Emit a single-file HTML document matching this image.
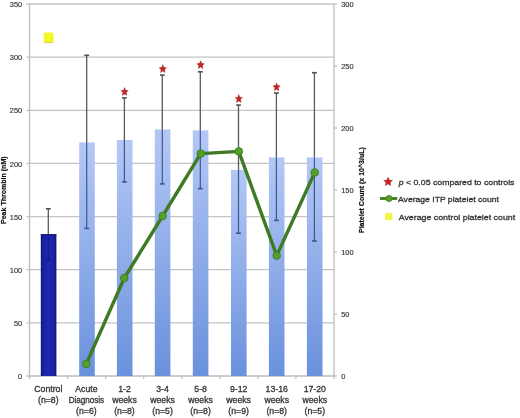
<!DOCTYPE html>
<html><head><meta charset="utf-8"><style>
html,body{margin:0;padding:0;background:#fff;width:520px;height:418px;overflow:hidden;position:relative;font-family:"Liberation Sans",sans-serif;}
</style></head><body>
<svg width="520" height="418" viewBox="0 0 520 418" style="position:absolute;left:0;top:0;will-change:transform;filter:blur(0.35px)" font-family="'Liberation Sans', sans-serif">
<defs>
<linearGradient id="gb" x1="0" y1="0" x2="0" y2="1"><stop offset="0" stop-color="#b4c8f5"/><stop offset="1" stop-color="#6a91dd"/></linearGradient>
<linearGradient id="gc" x1="0" y1="0" x2="1" y2="0"><stop offset="0" stop-color="#10147a"/><stop offset="0.18" stop-color="#1a22a6"/><stop offset="0.5" stop-color="#1e28ae"/><stop offset="0.82" stop-color="#1a22a6"/><stop offset="1" stop-color="#10147a"/></linearGradient>
</defs>
<line x1="26.5" y1="322.86" x2="334.0" y2="322.86" stroke="#c4c4c4" stroke-width="1.3"/>
<line x1="26.5" y1="269.71" x2="334.0" y2="269.71" stroke="#c4c4c4" stroke-width="1.3"/>
<line x1="26.5" y1="216.57" x2="334.0" y2="216.57" stroke="#c4c4c4" stroke-width="1.3"/>
<line x1="26.5" y1="163.43" x2="334.0" y2="163.43" stroke="#c4c4c4" stroke-width="1.3"/>
<line x1="26.5" y1="110.29" x2="334.0" y2="110.29" stroke="#c4c4c4" stroke-width="1.3"/>
<line x1="26.5" y1="57.14" x2="334.0" y2="57.14" stroke="#c4c4c4" stroke-width="1.3"/>
<line x1="26.5" y1="4.00" x2="334.0" y2="4.00" stroke="#c4c4c4" stroke-width="1.3"/>
<line x1="29.5" y1="4.0" x2="29.5" y2="376.0" stroke="#bdbdbd" stroke-width="1.3"/>
<line x1="334.0" y1="4.0" x2="334.0" y2="376.0" stroke="#bdbdbd" stroke-width="1.3"/>
<line x1="26.5" y1="376.0" x2="334.0" y2="376.0" stroke="#bdbdbd" stroke-width="1.3"/>
<line x1="334.0" y1="376.00" x2="337.0" y2="376.00" stroke="#bdbdbd" stroke-width="1.2"/>
<line x1="334.0" y1="314.00" x2="337.0" y2="314.00" stroke="#bdbdbd" stroke-width="1.2"/>
<line x1="334.0" y1="252.00" x2="337.0" y2="252.00" stroke="#bdbdbd" stroke-width="1.2"/>
<line x1="334.0" y1="190.00" x2="337.0" y2="190.00" stroke="#bdbdbd" stroke-width="1.2"/>
<line x1="334.0" y1="128.00" x2="337.0" y2="128.00" stroke="#bdbdbd" stroke-width="1.2"/>
<line x1="334.0" y1="66.00" x2="337.0" y2="66.00" stroke="#bdbdbd" stroke-width="1.2"/>
<line x1="334.0" y1="4.00" x2="337.0" y2="4.00" stroke="#bdbdbd" stroke-width="1.2"/>
<line x1="29.50" y1="376.0" x2="29.50" y2="379.0" stroke="#bdbdbd" stroke-width="1.2"/>
<line x1="67.56" y1="376.0" x2="67.56" y2="379.0" stroke="#bdbdbd" stroke-width="1.2"/>
<line x1="105.62" y1="376.0" x2="105.62" y2="379.0" stroke="#bdbdbd" stroke-width="1.2"/>
<line x1="143.69" y1="376.0" x2="143.69" y2="379.0" stroke="#bdbdbd" stroke-width="1.2"/>
<line x1="181.75" y1="376.0" x2="181.75" y2="379.0" stroke="#bdbdbd" stroke-width="1.2"/>
<line x1="219.81" y1="376.0" x2="219.81" y2="379.0" stroke="#bdbdbd" stroke-width="1.2"/>
<line x1="257.88" y1="376.0" x2="257.88" y2="379.0" stroke="#bdbdbd" stroke-width="1.2"/>
<line x1="295.94" y1="376.0" x2="295.94" y2="379.0" stroke="#bdbdbd" stroke-width="1.2"/>
<line x1="334.00" y1="376.0" x2="334.00" y2="379.0" stroke="#bdbdbd" stroke-width="1.2"/>
<rect x="40.80" y="234.2" width="15.6" height="141.80" fill="url(#gc)"/>
<rect x="40.80" y="234.2" width="15.6" height="1.2" fill="#0c0f66" opacity="0.8"/>
<rect x="79.20" y="142.4" width="15.6" height="233.60" fill="url(#gb)"/>
<rect x="116.90" y="140.0" width="15.6" height="236.00" fill="url(#gb)"/>
<rect x="154.80" y="129.4" width="15.6" height="246.60" fill="url(#gb)"/>
<rect x="192.80" y="130.3" width="15.6" height="245.70" fill="url(#gb)"/>
<rect x="231.00" y="169.8" width="15.6" height="206.20" fill="url(#gb)"/>
<rect x="268.90" y="157.4" width="15.6" height="218.60" fill="url(#gb)"/>
<rect x="306.90" y="157.4" width="15.6" height="218.60" fill="url(#gb)"/>
<line x1="48.30" y1="208.8" x2="48.30" y2="234.2" stroke="#5a5a5a" stroke-width="1.3"/>
<line x1="48.30" y1="234.2" x2="48.30" y2="259.7" stroke="#141a7e" stroke-width="1.2"/>
<line x1="45.90" y1="208.8" x2="50.70" y2="208.8" stroke="#505050" stroke-width="1.6"/>
<line x1="45.90" y1="259.7" x2="50.70" y2="259.7" stroke="#141a7e" stroke-width="1.6"/>
<line x1="86.70" y1="55.3" x2="86.70" y2="142.4" stroke="#5a5a5a" stroke-width="1.3"/>
<line x1="86.70" y1="142.4" x2="86.70" y2="228.4" stroke="#3f5690" stroke-width="1.2"/>
<line x1="84.30" y1="55.3" x2="89.10" y2="55.3" stroke="#505050" stroke-width="1.6"/>
<line x1="84.30" y1="228.4" x2="89.10" y2="228.4" stroke="#3f5690" stroke-width="1.6"/>
<line x1="124.40" y1="97.9" x2="124.40" y2="140.0" stroke="#5a5a5a" stroke-width="1.3"/>
<line x1="124.40" y1="140.0" x2="124.40" y2="181.9" stroke="#3f5690" stroke-width="1.2"/>
<line x1="122.00" y1="97.9" x2="126.80" y2="97.9" stroke="#505050" stroke-width="1.6"/>
<line x1="122.00" y1="181.9" x2="126.80" y2="181.9" stroke="#3f5690" stroke-width="1.6"/>
<line x1="162.30" y1="75.1" x2="162.30" y2="129.4" stroke="#5a5a5a" stroke-width="1.3"/>
<line x1="162.30" y1="129.4" x2="162.30" y2="183.9" stroke="#3f5690" stroke-width="1.2"/>
<line x1="159.90" y1="75.1" x2="164.70" y2="75.1" stroke="#505050" stroke-width="1.6"/>
<line x1="159.90" y1="183.9" x2="164.70" y2="183.9" stroke="#3f5690" stroke-width="1.6"/>
<line x1="200.30" y1="71.8" x2="200.30" y2="130.3" stroke="#5a5a5a" stroke-width="1.3"/>
<line x1="200.30" y1="130.3" x2="200.30" y2="188.6" stroke="#3f5690" stroke-width="1.2"/>
<line x1="197.90" y1="71.8" x2="202.70" y2="71.8" stroke="#505050" stroke-width="1.6"/>
<line x1="197.90" y1="188.6" x2="202.70" y2="188.6" stroke="#3f5690" stroke-width="1.6"/>
<line x1="238.50" y1="105.1" x2="238.50" y2="169.8" stroke="#5a5a5a" stroke-width="1.3"/>
<line x1="238.50" y1="169.8" x2="238.50" y2="233.2" stroke="#3f5690" stroke-width="1.2"/>
<line x1="236.10" y1="105.1" x2="240.90" y2="105.1" stroke="#505050" stroke-width="1.6"/>
<line x1="236.10" y1="233.2" x2="240.90" y2="233.2" stroke="#3f5690" stroke-width="1.6"/>
<line x1="276.40" y1="93.0" x2="276.40" y2="157.4" stroke="#5a5a5a" stroke-width="1.3"/>
<line x1="276.40" y1="157.4" x2="276.40" y2="220.4" stroke="#3f5690" stroke-width="1.2"/>
<line x1="274.00" y1="93.0" x2="278.80" y2="93.0" stroke="#505050" stroke-width="1.6"/>
<line x1="274.00" y1="220.4" x2="278.80" y2="220.4" stroke="#3f5690" stroke-width="1.6"/>
<line x1="314.40" y1="72.7" x2="314.40" y2="157.4" stroke="#5a5a5a" stroke-width="1.3"/>
<line x1="314.40" y1="157.4" x2="314.40" y2="241.0" stroke="#3f5690" stroke-width="1.2"/>
<line x1="312.00" y1="72.7" x2="316.80" y2="72.7" stroke="#505050" stroke-width="1.6"/>
<line x1="312.00" y1="241.0" x2="316.80" y2="241.0" stroke="#3f5690" stroke-width="1.6"/>
<polygon points="124.60,87.60 125.67,90.23 128.20,90.57 126.33,92.54 126.82,95.38 124.60,93.96 122.38,95.38 122.87,92.54 121.00,90.57 123.53,90.23" fill="#c42424" stroke="#a01818" stroke-width="0.4"/>
<polygon points="162.80,64.70 163.87,67.33 166.40,67.67 164.53,69.64 165.02,72.48 162.80,71.06 160.58,72.48 161.07,69.64 159.20,67.67 161.73,67.33" fill="#c42424" stroke="#a01818" stroke-width="0.4"/>
<polygon points="200.60,60.70 201.67,63.33 204.20,63.67 202.33,65.64 202.82,68.48 200.60,67.06 198.38,68.48 198.87,65.64 197.00,63.67 199.53,63.33" fill="#c42424" stroke="#a01818" stroke-width="0.4"/>
<polygon points="238.80,94.60 239.87,97.23 242.40,97.57 240.53,99.54 241.02,102.38 238.80,100.96 236.58,102.38 237.07,99.54 235.20,97.57 237.73,97.23" fill="#c42424" stroke="#a01818" stroke-width="0.4"/>
<polygon points="276.60,82.90 277.67,85.53 280.20,85.87 278.33,87.84 278.82,90.68 276.60,89.26 274.38,90.68 274.87,87.84 273.00,85.87 275.53,85.53" fill="#c42424" stroke="#a01818" stroke-width="0.4"/>
<rect x="43.6" y="32.4" width="10" height="10.6" rx="1.6" fill="#f0f82a"/>
<rect x="44.2" y="42" width="8.8" height="1.1" fill="#c8c860" opacity="0.8"/>
<polyline points="86.2,364.0 124.3,278.0 162.6,216.0 200.7,153.6 238.8,151.4 276.7,255.6 314.7,172.5" fill="none" stroke="#3f7b24" stroke-width="3.4" stroke-linejoin="round"/>
<circle cx="86.2" cy="364.0" r="3.8" fill="#52a02a" stroke="#3f7b24" stroke-width="0.9"/>
<circle cx="124.3" cy="278.0" r="3.8" fill="#52a02a" stroke="#3f7b24" stroke-width="0.9"/>
<circle cx="162.6" cy="216.0" r="3.8" fill="#52a02a" stroke="#3f7b24" stroke-width="0.9"/>
<circle cx="200.7" cy="153.6" r="3.8" fill="#52a02a" stroke="#3f7b24" stroke-width="0.9"/>
<circle cx="238.8" cy="151.4" r="3.8" fill="#52a02a" stroke="#3f7b24" stroke-width="0.9"/>
<circle cx="276.7" cy="255.6" r="3.8" fill="#52a02a" stroke="#3f7b24" stroke-width="0.9"/>
<circle cx="314.7" cy="172.5" r="3.8" fill="#52a02a" stroke="#3f7b24" stroke-width="0.9"/>
<text x="22.2" y="379.10" font-size="7.4" fill="#333" stroke="#333" stroke-width="0.15" text-anchor="end">0</text>
<text x="22.2" y="325.96" font-size="7.4" fill="#333" stroke="#333" stroke-width="0.15" text-anchor="end">50</text>
<text x="22.2" y="272.81" font-size="7.4" fill="#333" stroke="#333" stroke-width="0.15" text-anchor="end">100</text>
<text x="22.2" y="219.67" font-size="7.4" fill="#333" stroke="#333" stroke-width="0.15" text-anchor="end">150</text>
<text x="22.2" y="166.53" font-size="7.4" fill="#333" stroke="#333" stroke-width="0.15" text-anchor="end">200</text>
<text x="22.2" y="113.39" font-size="7.4" fill="#333" stroke="#333" stroke-width="0.15" text-anchor="end">250</text>
<text x="22.2" y="60.24" font-size="7.4" fill="#333" stroke="#333" stroke-width="0.15" text-anchor="end">300</text>
<text x="22.2" y="7.10" font-size="7.4" fill="#333" stroke="#333" stroke-width="0.15" text-anchor="end">350</text>
<text x="341.2" y="379.10" font-size="7.4" fill="#333" stroke="#333" stroke-width="0.15">0</text>
<text x="341.2" y="317.10" font-size="7.4" fill="#333" stroke="#333" stroke-width="0.15">50</text>
<text x="341.2" y="255.10" font-size="7.4" fill="#333" stroke="#333" stroke-width="0.15">100</text>
<text x="341.2" y="193.10" font-size="7.4" fill="#333" stroke="#333" stroke-width="0.15">150</text>
<text x="341.2" y="131.10" font-size="7.4" fill="#333" stroke="#333" stroke-width="0.15">200</text>
<text x="341.2" y="69.10" font-size="7.4" fill="#333" stroke="#333" stroke-width="0.15">250</text>
<text x="341.2" y="7.10" font-size="7.4" fill="#333" stroke="#333" stroke-width="0.15">300</text>
<text x="48.33" y="391.90" font-size="8.7" fill="#333" stroke="#333" stroke-width="0.3" text-anchor="middle">Control</text>
<text x="48.33" y="402.80" font-size="8.7" fill="#333" stroke="#333" stroke-width="0.3" text-anchor="middle">(n=8)</text>
<text x="86.39" y="391.90" font-size="8.7" fill="#333" stroke="#333" stroke-width="0.3" text-anchor="middle">Acute</text>
<text x="86.39" y="402.80" font-size="8.7" fill="#333" stroke="#333" stroke-width="0.3" text-anchor="middle" textLength="35.5" lengthAdjust="spacingAndGlyphs">Diagnosis</text>
<text x="86.39" y="413.70" font-size="8.7" fill="#333" stroke="#333" stroke-width="0.3" text-anchor="middle">(n=6)</text>
<text x="124.46" y="391.90" font-size="8.7" fill="#333" stroke="#333" stroke-width="0.3" text-anchor="middle">1-2</text>
<text x="124.46" y="402.80" font-size="8.7" fill="#333" stroke="#333" stroke-width="0.3" text-anchor="middle">weeks</text>
<text x="124.46" y="413.70" font-size="8.7" fill="#333" stroke="#333" stroke-width="0.3" text-anchor="middle">(n=8)</text>
<text x="162.52" y="391.90" font-size="8.7" fill="#333" stroke="#333" stroke-width="0.3" text-anchor="middle">3-4</text>
<text x="162.52" y="402.80" font-size="8.7" fill="#333" stroke="#333" stroke-width="0.3" text-anchor="middle">weeks</text>
<text x="162.52" y="413.70" font-size="8.7" fill="#333" stroke="#333" stroke-width="0.3" text-anchor="middle">(n=5)</text>
<text x="200.58" y="391.90" font-size="8.7" fill="#333" stroke="#333" stroke-width="0.3" text-anchor="middle">5-8</text>
<text x="200.58" y="402.80" font-size="8.7" fill="#333" stroke="#333" stroke-width="0.3" text-anchor="middle">weeks</text>
<text x="200.58" y="413.70" font-size="8.7" fill="#333" stroke="#333" stroke-width="0.3" text-anchor="middle">(n=8)</text>
<text x="238.64" y="391.90" font-size="8.7" fill="#333" stroke="#333" stroke-width="0.3" text-anchor="middle">9-12</text>
<text x="238.64" y="402.80" font-size="8.7" fill="#333" stroke="#333" stroke-width="0.3" text-anchor="middle">weeks</text>
<text x="238.64" y="413.70" font-size="8.7" fill="#333" stroke="#333" stroke-width="0.3" text-anchor="middle">(n=9)</text>
<text x="276.71" y="391.90" font-size="8.7" fill="#333" stroke="#333" stroke-width="0.3" text-anchor="middle">13-16</text>
<text x="276.71" y="402.80" font-size="8.7" fill="#333" stroke="#333" stroke-width="0.3" text-anchor="middle">weeks</text>
<text x="276.71" y="413.70" font-size="8.7" fill="#333" stroke="#333" stroke-width="0.3" text-anchor="middle">(n=8)</text>
<text x="314.77" y="391.90" font-size="8.7" fill="#333" stroke="#333" stroke-width="0.3" text-anchor="middle">17-20</text>
<text x="314.77" y="402.80" font-size="8.7" fill="#333" stroke="#333" stroke-width="0.3" text-anchor="middle">weeks</text>
<text x="314.77" y="413.70" font-size="8.7" fill="#333" stroke="#333" stroke-width="0.3" text-anchor="middle">(n=5)</text>
<text transform="translate(5.6,190.2) rotate(-90)" font-size="7" font-weight="bold" fill="#111" stroke="#111" stroke-width="0.2" text-anchor="middle" textLength="67.6" lengthAdjust="spacingAndGlyphs">Peak Thrombin (nM)</text>
<text transform="translate(364.4,190.1) rotate(-90)" font-size="7" font-weight="bold" fill="#111" stroke="#111" stroke-width="0.2" text-anchor="middle" textLength="85.8" lengthAdjust="spacingAndGlyphs">Platelet Count (x 10^3/uL)</text>
<polygon points="388.10,177.30 389.40,180.11 392.47,180.48 390.20,182.58 390.80,185.62 388.10,184.11 385.40,185.62 386.00,182.58 383.73,180.48 386.80,180.11" fill="#c42424" stroke="#a01818" stroke-width="0.4"/>
<line x1="380" y1="198.5" x2="397.3" y2="198.5" stroke="#3f7a22" stroke-width="2.8"/>
<ellipse cx="389" cy="198.5" rx="3.3" ry="3.0" fill="#58a02a" stroke="#3f7a22" stroke-width="0.8"/>
<rect x="385" y="213" width="7.4" height="7.2" rx="1.2" fill="#f2f448"/>
<text x="398.7" y="185" font-size="8.1" fill="#333" stroke="#333" stroke-width="0.3" textLength="115.8" lengthAdjust="spacingAndGlyphs"><tspan font-style="italic">p</tspan> &lt; 0.05 compared to controls</text>
<text x="398" y="202.3" font-size="8.1" fill="#333" stroke="#333" stroke-width="0.3" textLength="101" lengthAdjust="spacingAndGlyphs">Average ITP platelet count</text>
<text x="398.7" y="220.3" font-size="8.1" fill="#333" stroke="#333" stroke-width="0.3" textLength="116.5" lengthAdjust="spacingAndGlyphs">Average control platelet count</text>
</svg>
</body></html>
